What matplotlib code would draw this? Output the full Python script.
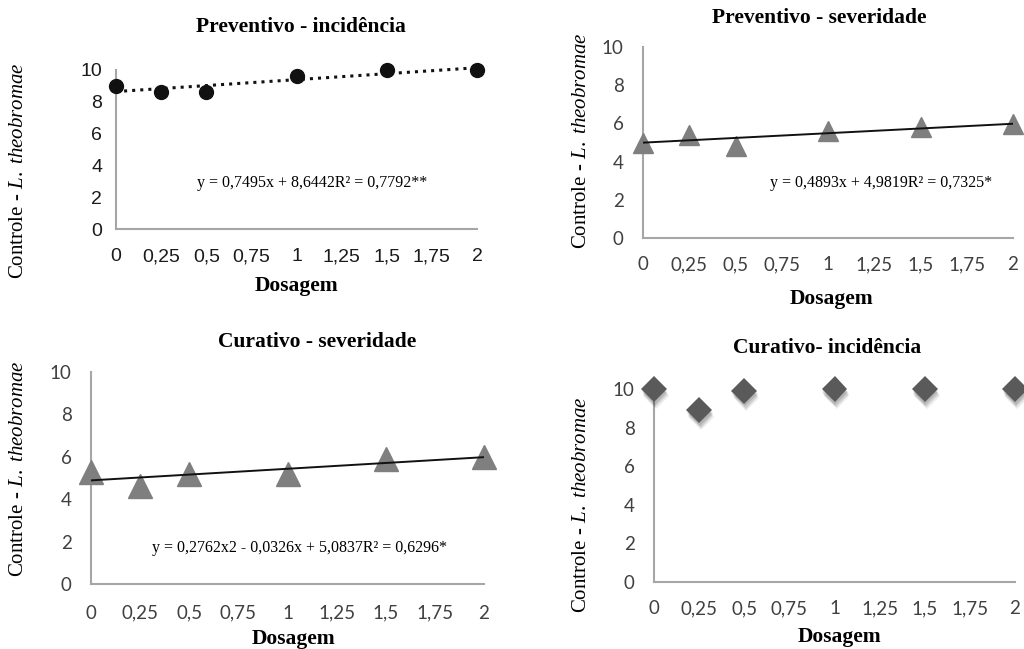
import numpy as np
import matplotlib
matplotlib.use("Agg")
import matplotlib.pyplot as plt
import matplotlib.patheffects as pe

plt.rcParams['mathtext.fontset'] = 'custom'
plt.rcParams['mathtext.rm'] = 'Liberation Serif'
plt.rcParams['mathtext.it'] = 'Liberation Serif:italic'

dose = [0, 0.25, 0.5, 1, 1.5, 2]
xticks = [0, 0.25, 0.5, 0.75, 1, 1.25, 1.5, 1.75, 2]
xticklabels = ['0', '0,25', '0,5', '0,75', '1', '1,25', '1,5', '1,75', '2']
yticks = [0, 2, 4, 6, 8, 10]

prev_inc = [9.0, 8.6, 8.6, 9.6, 10.0, 10.0]
prev_sev = [5.0, 5.4, 4.8, 5.6, 5.8, 5.95]
cur_sev = [5.3, 4.6, 5.2, 5.2, 5.9, 6.0]
cur_inc = [10.0, 8.9, 9.9, 10.0, 10.0, 10.0]

eq_prev_inc = 'y = 0,7495x + 8,6442R² = 0,7792**'
eq_prev_sev = 'y = 0,4893x + 4,9819R² = 0,7325*'
eq_cur_sev = 'y = 0,2762x2 - 0,0326x + 5,0837R² = 0,6296*'

W, H = 1024, 649
fig = plt.figure(figsize=(W / 100, H / 100), dpi=100)

ylab = 'Controle - $\\mathit{L.\\ theobromae}$'
serif = 'Liberation Serif'


def make_axes(l, r, t, b, tickfont, tickcolor, tsize, ypad, xpad):
    ax = fig.add_axes([l / W, 1 - b / H, (r - l) / W, (b - t) / H])
    ax.set_xlim(0, 2)
    ax.set_ylim(0, 10)
    for s in ['top', 'right']:
        ax.spines[s].set_visible(False)
    for s in ['left', 'bottom']:
        ax.spines[s].set_color('#a6a6a6')
        ax.spines[s].set_linewidth(1.5)
    ax.set_xticks(xticks)
    ax.set_xticklabels(xticklabels)
    ax.set_yticks(yticks)
    ax.tick_params(axis='both', length=0, labelsize=tsize, labelcolor=tickcolor)
    ax.tick_params(axis='y', pad=ypad)
    ax.tick_params(axis='x', pad=xpad)
    for lb in ax.get_xticklabels() + ax.get_yticklabels():
        lb.set_fontfamily(tickfont)
    ax.patch.set_alpha(0)
    return ax


def fig_text(x, y, s, **kw):
    fig.text(x / W, 1 - y / H, s, ha='center', va='center', **kw)


# Preventivo - incidencia
ax1 = make_axes(116, 477, 70, 229, 'Liberation Sans', '#1a1a1a', 14, 10, 14)
ax1.plot(dose, prev_inc, 'o', color='#111111', markersize=10, clip_on=False, zorder=3)
c = np.polyfit(dose, prev_inc, 1)
ax1.plot([0, 2], np.polyval(c, [0, 2]), ':', color='#111111', lw=2.2, zorder=4, clip_on=False)
fig_text(312, 183, eq_prev_inc, family=serif, fontsize=11.5)
fig_text(301, 27, 'Preventivo - incidência', family=serif, fontsize=15.5, weight='bold')
fig_text(296, 286, 'Dosagem', family=serif, fontsize=15.5, weight='bold')
fig_text(19, 171, ylab, family=serif, fontsize=15, rotation=90)

# Preventivo - severidade
ax2 = make_axes(643, 1013, 47, 238, 'Lato', '#404040', 13.5, 14, 13)
ax2.plot(dose, prev_sev, '^', color='#7f7f7f', markersize=15, clip_on=False, zorder=3)
c = np.polyfit(dose, prev_sev, 1)
ax2.plot([0, 2], np.polyval(c, [0, 2]), '-', color='#111111', lw=1.4, zorder=4)
fig_text(881, 183, eq_prev_sev, family=serif, fontsize=11.5)
fig_text(819, 18, 'Preventivo - severidade', family=serif, fontsize=15.5, weight='bold')
fig_text(831, 299, 'Dosagem', family=serif, fontsize=15.5, weight='bold')
fig_text(582, 141, ylab, family=serif, fontsize=15, rotation=90)

# Curativo - severidade
ax3 = make_axes(91, 484, 372, 584, 'Lato', '#404040', 13.5, 14, 15)
ax3.plot(dose, cur_sev, '^', color='#7f7f7f', markersize=17, clip_on=False, zorder=3)
c = np.polyfit(dose, cur_sev, 1)
ax3.plot([0, 2], np.polyval(c, [0, 2]), '-', color='#111111', lw=1.4, zorder=4)
fig_text(300, 548, eq_cur_sev, family=serif, fontsize=11.5)
fig_text(317, 342, 'Curativo - severidade', family=serif, fontsize=15.5, weight='bold')
fig_text(293, 639, 'Dosagem', family=serif, fontsize=15.5, weight='bold')
fig_text(19, 469, ylab, family=serif, fontsize=15, rotation=90)

# Curativo- incidencia
ax4 = make_axes(654, 1015, 389, 582, 'Lato', '#404040', 13.5, 14, 13)
shadow = [pe.SimplePatchShadow(offset=(0.5, -2), shadow_rgbFace='black', alpha=0.12),
          pe.SimplePatchShadow(offset=(1, -3.5), shadow_rgbFace='black', alpha=0.12),
          pe.SimplePatchShadow(offset=(1.5, -5), shadow_rgbFace='black', alpha=0.08),
          pe.Normal()]
ax4.plot(dose, cur_inc, 'D', color='#5a5a5a', markersize=13, markeredgewidth=0,
         clip_on=False, zorder=3, path_effects=shadow)
fig_text(827, 348, 'Curativo- incidência', family=serif, fontsize=15.5, weight='bold')
fig_text(839, 637, 'Dosagem', family=serif, fontsize=15.5, weight='bold')
fig_text(582, 505, ylab, family=serif, fontsize=15, rotation=90)

fig.savefig('out.png', dpi=100)
